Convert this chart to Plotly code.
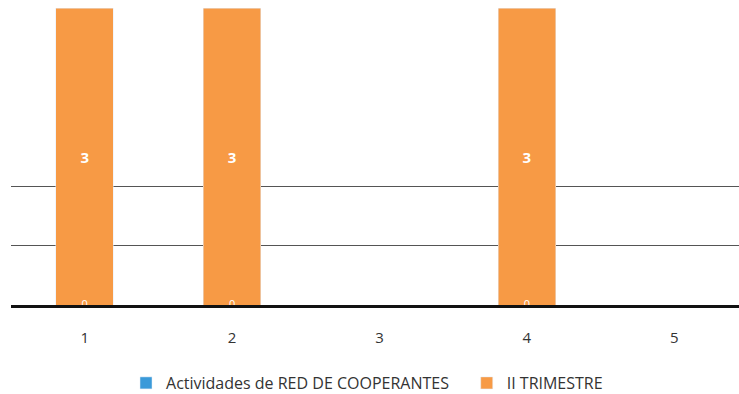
import plotly.graph_objects as go

# data
categories = [1, 2, 3, 4, 5]
red_cooperantes = [0, 0, None, 0, None]
ii_trimestre = [3, 3, None, 3, None]

blue = "#3A9AD9"
orange = "#F79A45"

fig = go.Figure()

# blue series (all zeros)
fig.add_trace(go.Bar(
    x=categories, y=red_cooperantes,
    name="Actividades de RED DE COOPERANTES",
    marker_color=blue, width=0.39, legend="legend",
))

# orange series with centered labels
fig.add_trace(go.Bar(
    x=categories, y=ii_trimestre,
    name="II TRIMESTRE",
    marker_color=orange, width=0.39, legend="legend2",
    text=[str(v) if v is not None else "" for v in ii_trimestre],
    textposition="inside", insidetextanchor="middle",
    textfont=dict(color="white", size=15, family="Open Sans", weight="bold"),
))

# zero labels of the blue series, sitting on the baseline
fig.add_trace(go.Scatter(
    x=[c for c, v in zip(categories, red_cooperantes) if v is not None],
    y=[v for v in red_cooperantes if v is not None],
    mode="text", text=["0" for v in red_cooperantes if v is not None],
    textposition="middle center",
    textfont=dict(color="white", size=11, family="Open Sans"),
    showlegend=False, hoverinfo="skip", cliponaxis=False,
))

fig.update_layout(
    barmode="stack",
    width=739, height=394,
    margin=dict(l=11, r=0, t=0, b=89, autoexpand=False),
    paper_bgcolor="white", plot_bgcolor="white",
    font=dict(family="Open Sans", size=15, color="#333333"),
    showlegend=True,
    legend=dict(
        orientation="h", x=0.158, xanchor="left", y=-0.2, yanchor="top",
        font=dict(size=16, color="#333333"),
    ),
    legend2=dict(
        orientation="h", x=0.626, xanchor="left", y=-0.2, yanchor="top",
        font=dict(size=16, color="#333333"),
    ),
    xaxis=dict(
        range=[0.5, 5.44], tickvals=categories,
        showline=True, linecolor="#111111", linewidth=3,
        showgrid=False, ticks="", ticklabelstandoff=17,
        tickfont=dict(size=15, color="#333333"),
    ),
    yaxis=dict(
        range=[0, 3.081], tickvals=[0.6, 1.2],
        showticklabels=False, showgrid=True, gridcolor="#555555", gridwidth=1,
        zeroline=False,
    ),
)

# remove the default page margin so the figure sits at the window corner
fig.write_html("out.html", config={"displayModeBar": False},
               post_script="document.body.style.margin='0';")
